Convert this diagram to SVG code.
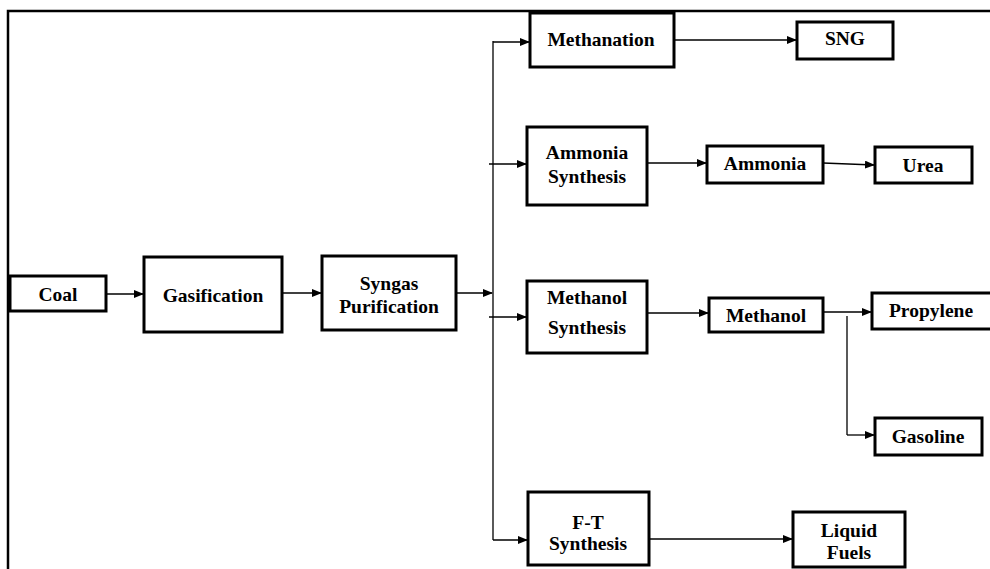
<svg xmlns="http://www.w3.org/2000/svg" width="990" height="569" viewBox="0 0 990 569">
<style>
.box{fill:#fff;stroke:#000;stroke-width:3}
.t{font-family:"Liberation Serif","Times New Roman",serif;font-weight:bold;font-size:19.5px;text-anchor:middle;fill:#000}
.c{fill:none;stroke:#000;stroke-width:1.3}
.frame{fill:none;stroke:#000;stroke-width:2.5}
</style>
<defs>
<marker id="ah" markerWidth="10" markerHeight="8" refX="9" refY="4" orient="auto" markerUnits="userSpaceOnUse">
<path d="M0,0 L10,4 L0,8 Z" fill="#000"/>
</marker>
</defs>
<rect width="990" height="569" fill="#fff"/>
<path class="frame" d="M8,569 L8,11 L990,11"/>
<g id="connectors">
<line class="c" x1="106" y1="294" x2="143" y2="294" marker-end="url(#ah)"/>
<line class="c" x1="282" y1="293" x2="321" y2="293" marker-end="url(#ah)"/>
<line class="c" x1="456" y1="293" x2="492" y2="293" marker-end="url(#ah)"/>
<line class="c" x1="493" y1="41" x2="493" y2="540"/>
<line class="c" x1="493" y1="42" x2="529" y2="42" marker-end="url(#ah)"/>
<line class="c" x1="489" y1="164" x2="526" y2="164" marker-end="url(#ah)"/>
<line class="c" x1="489" y1="317" x2="526" y2="317" marker-end="url(#ah)"/>
<line class="c" x1="493" y1="540" x2="527" y2="540" marker-end="url(#ah)"/>
<line class="c" x1="674" y1="40" x2="796" y2="40" marker-end="url(#ah)"/>
<line class="c" x1="647" y1="163" x2="706" y2="163" marker-end="url(#ah)"/>
<line class="c" x1="823" y1="163" x2="874" y2="165" marker-end="url(#ah)"/>
<line class="c" x1="647" y1="313" x2="708" y2="313" marker-end="url(#ah)"/>
<line class="c" x1="818" y1="312" x2="871" y2="312" marker-end="url(#ah)"/>
<line class="c" x1="847" y1="316" x2="847" y2="435"/>
<line class="c" x1="847" y1="435" x2="874" y2="435" marker-end="url(#ah)"/>
<line class="c" x1="649" y1="539" x2="792" y2="539" marker-end="url(#ah)"/>
</g>
<g id="coal"><rect class="box" x="10" y="276" width="96" height="35"/><text class="t" x="58" y="301">Coal</text></g>
<g id="gasification"><rect class="box" x="144" y="257" width="138" height="75"/><text class="t" x="213" y="302">Gasification</text></g>
<g id="syngas"><rect class="box" x="322" y="256" width="134" height="74"/><text class="t" x="389" y="290">Syngas</text><text class="t" x="389" y="313">Purification</text></g>
<g id="methanation"><rect class="box" x="530" y="13" width="144" height="54"/><text class="t" x="601" y="46">Methanation</text></g>
<g id="sng"><rect class="box" x="797" y="22" width="96" height="37"/><text class="t" x="845" y="45">SNG</text></g>
<g id="ammonia-synthesis"><rect class="box" x="527" y="127" width="120" height="78"/><text class="t" x="587" y="159">Ammonia</text><text class="t" x="587" y="183">Synthesis</text></g>
<g id="ammonia"><rect class="box" x="707" y="146" width="116" height="37"/><text class="t" x="765" y="170">Ammonia</text></g>
<g id="urea"><rect class="box" x="875" y="147" width="97" height="36"/><text class="t" x="923" y="172">Urea</text></g>
<g id="methanol-synthesis"><rect class="box" x="527" y="281" width="120" height="72"/><text class="t" x="587" y="304">Methanol</text><text class="t" x="587" y="334">Synthesis</text></g>
<g id="methanol"><rect class="box" x="709" y="298" width="114" height="34"/><text class="t" x="766" y="322">Methanol</text></g>
<g id="propylene"><rect class="box" x="872" y="293" width="125" height="36"/><text class="t" x="931" y="317">Propylene</text></g>
<g id="gasoline"><rect class="box" x="875" y="418" width="107" height="37"/><text class="t" x="928" y="443">Gasoline</text></g>
<g id="ft-synthesis"><rect class="box" x="528" y="492" width="121" height="73"/><text class="t" x="588" y="529">F-T</text><text class="t" x="588" y="550">Synthesis</text></g>
<g id="liquid-fuels"><rect class="box" x="793" y="512" width="112" height="55"/><text class="t" x="849" y="537">Liquid</text><text class="t" x="849" y="559">Fuels</text></g>
</svg>
